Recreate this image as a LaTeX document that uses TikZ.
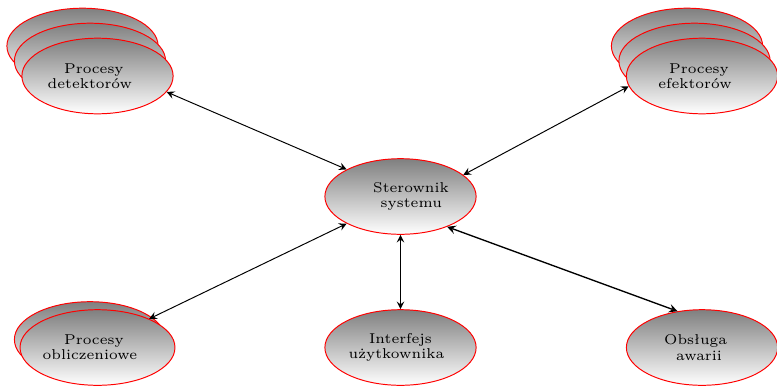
\documentclass[tikz,border=0pt]{standalone}
\usetikzlibrary{shapes.geometric,arrows}
% shift a centred line to the right (\rs) or to the left (\ls)
\newcommand\rs[2]{\hspace*{#1}#2}
\newcommand\ls[2]{#2\hspace*{#1}}
\begin{document}
\begin{tikzpicture}[x=0.41pt,y=-0.41pt,
  proc/.style={ellipse, draw=red, top color=gray, bottom color=white,
    minimum width=62pt, minimum height=31pt, inner sep=0pt,
    align=center, font=\fontsize{5.85}{6.3}\selectfont},
  link/.style={<->, >=stealth, black}]
\useasboundingbox (0,0) rectangle (777,386);

% process groups drawn as stacks of ellipses
\node[proc] (det3) at (82.5,46) {};
\node[proc] (det2) at (90,61) {};
\node[proc] (det)  at (97.5,76) {\ls{2.9pt}{Procesy}\\\ls{6.2pt}{detektorów}};

\node[proc] (eff3) at (687,46) {};
\node[proc] (eff2) at (694.5,61) {};
\node[proc] (eff)  at (702,76) {\ls{2.5pt}{Procesy}\\\ls{5.7pt}{efektorów}};

\node[proc] (obl2) at (90,339.5) {};
\node[proc] (obl)  at (97.5,347.5) {\ls{2.9pt}{Procesy}\\\ls{6.2pt}{obliczeniowe}};

\node[proc] (ster) at (400.5,196.5) {\rs{8.6pt}{Sterownik}\\\rs{8.9pt}{systemu}};
\node[proc] (ui)   at (400.5,347.5) {Interfejs\\\ls{3.3pt}{użytkownika}};
\node[proc] (err)  at (702,347.5) {\ls{5.2pt}{Obsługa}\\\ls{2.5pt}{awarii}};

% connections to the controller
\draw[link] (det.-13) -- (ster.north west);
\draw[link] (eff.188) -- (ster.19);
\draw[link] (obl.29) -- (ster.south west);
\draw[link] (ui.north) -- (ster.south);
\draw[link, line width=0.55pt] (err.124) -- (ster.-33);
\end{tikzpicture}
\end{document}
